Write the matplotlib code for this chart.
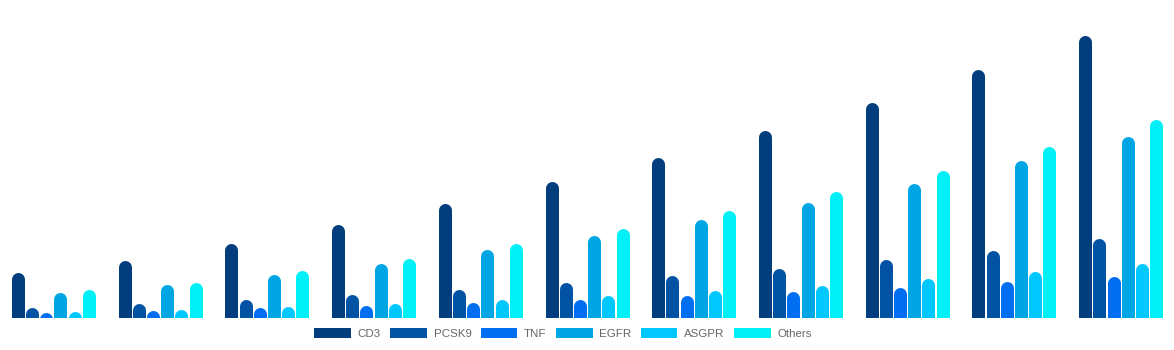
import matplotlib.pyplot as plt
from matplotlib.patches import Patch

plt.rcParams['font.family'] = ['Liberation Sans', 'DejaVu Sans']

series = ['CD3', 'PCSK9', 'TNF', 'EGFR', 'ASGPR', 'Others']
colors = ['#023e7d', '#0353a4', '#006ef0', '#00a6e4', '#00c8ff', '#00f0f8']

cd3 = [46, 58, 75, 94, 115, 137, 161, 188, 216, 249, 283]
pcsk9 = [11, 15, 19, 24, 29, 36, 43, 50, 59, 68, 80]
tnf = [6, 8, 11, 13, 16, 19, 23, 27, 31, 37, 42]
egfr = [26, 34, 44, 55, 69, 83, 99, 116, 135, 158, 182]
asgpr = [7, 9, 12, 15, 19, 23, 28, 33, 40, 47, 55]
others = [29, 36, 48, 60, 75, 90, 108, 127, 148, 172, 199]

values = [cd3, pcsk9, tnf, egfr, asgpr, others]
n_groups = len(cd3)

fig = plt.figure(figsize=(11.74, 3.5), dpi=100)
ax = fig.add_axes([0, 32 / 350, 1, 298 / 350])
ax.set_xlim(-0.5, n_groups - 0.5)
ax.set_ylim(0, 298)
ax.axis('off')

# bars drawn as thick lines with round caps; y units are pixels here
bar_px = 13
radius = bar_px / 2
step = 14.2 / (1174 / n_groups)
lw = bar_px * 72 / 100
for j, (vals, c) in enumerate(zip(values, colors)):
    off = (j - 2.5) * step
    for i, v in enumerate(vals):
        ax.plot([i + off, i + off], [-20, v - radius], color=c, lw=lw,
                solid_capstyle='round')

handles = [Patch(facecolor=c, label=s) for s, c in zip(series, colors)]
fig.legend(handles=handles, loc='center', bbox_to_anchor=(563 / 1174, 1 - 333.5 / 350),
           ncol=6, frameon=False, fontsize=8.25, handlelength=3.2, handleheight=1.0,
           handletextpad=0.6, columnspacing=0.8, labelcolor='#666666')

fig.savefig('out.png', dpi=100)
